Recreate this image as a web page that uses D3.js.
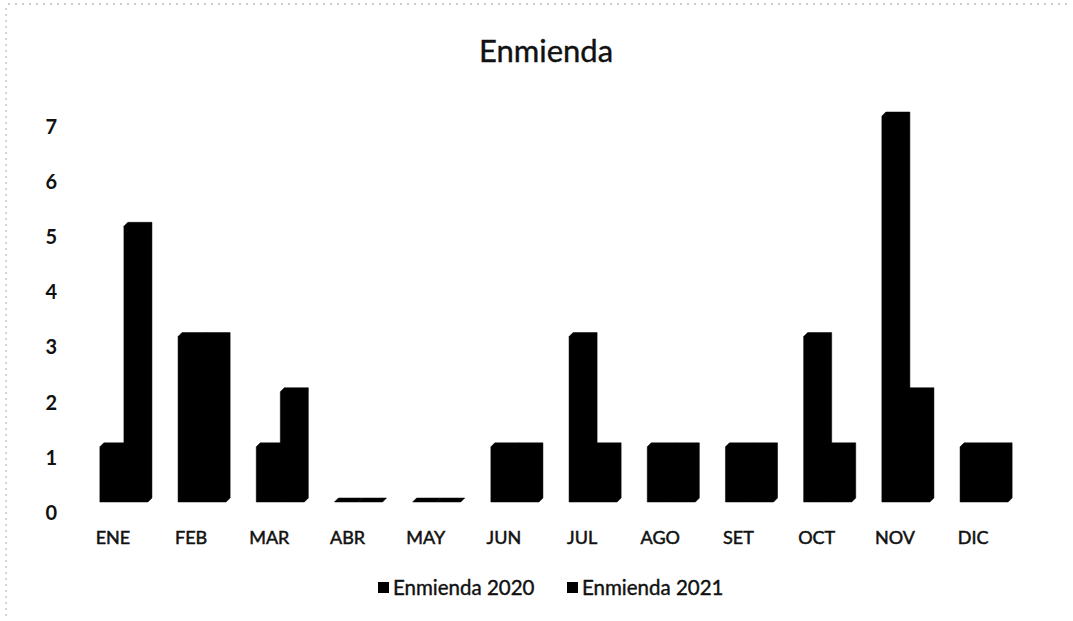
<!DOCTYPE html>
<html><head><meta charset="utf-8">
<script src="https://cdn.jsdelivr.net/npm/d3@7"></script>
<style>
html,body{margin:0;padding:0;background:#fff;}
text{font-family:Lato,"Open Sans",sans-serif;fill:#111;}
</style></head>
<body>
<svg id="chart" width="1073" height="621"></svg>
<script>
const categories = ["ENE","FEB","MAR","ABR","MAY","JUN","JUL","AGO","SET","OCT","NOV","DIC"];
const seriesNames = ["Enmienda 2020","Enmienda 2021"];
const values2020 = [1,3,1,0,0,1,3,1,1,3,7,1];
const values2021 = [5,3,2,0,0,1,1,1,1,1,2,1];
const yTicks = [0,1,2,3,4,5,6,7];
const title = "Enmienda";

const svg = d3.select("#chart");
const W = 1073, H = 621;
svg.append("rect").attr("width",W).attr("height",H).attr("fill","#fff");

// scan border artifacts
svg.append("line").attr("x1",8).attr("x2",1070).attr("y1",4).attr("y2",4)
  .attr("stroke","#999").attr("stroke-width",1).attr("stroke-dasharray","2,5");
svg.append("line").attr("x1",6).attr("x2",6).attr("y1",8).attr("y2",618)
  .attr("stroke","#aaa").attr("stroke-width",1).attr("stroke-dasharray","2,4");

const x = d3.scaleBand().domain(categories).range([85,1023]).paddingInner(0.385).paddingOuter(0.19);
const xs = d3.scaleBand().domain(seriesNames).range([0,x.bandwidth()]).padding(0);
const y = d3.scaleLinear().domain([0,7]).range([502,116]);
const d = 4;

svg.append("text").attr("x",546).attr("y",62).attr("text-anchor","middle")
  .attr("font-size",31).attr("stroke","#111").attr("stroke-width",0.4).text(title);

// y axis labels
const yAxis = d3.axisLeft(y).tickValues(yTicks).tickSize(0).tickPadding(0).tickFormat(d3.format("d"));
const ya = svg.append("g").attr("transform","translate(57,11)").call(yAxis);
ya.select(".domain").remove();
ya.selectAll("text").attr("font-size",20).attr("font-weight","bold")
  .style("font-family","Lato,sans-serif").attr("fill","#111");

// x axis labels
const xAxis = d3.axisBottom(x).tickSize(0).tickPadding(0);
const xa = svg.append("g").attr("transform","translate(-11,531)").call(xAxis);
xa.select(".domain").remove();
xa.selectAll("text").attr("font-size",18).style("font-family","Lato,sans-serif")
  .attr("fill","#111").attr("stroke","#111").attr("stroke-width",0.5);

const rows = [];
categories.forEach((c,i)=>{
  rows.push({c, s:seriesNames[0], v:values2020[i]});
  rows.push({c, s:seriesNames[1], v:values2021[i]});
});

function barPath(r){
  const x0 = x(r.c)+xs(r.s), x1 = x0+xs.bandwidth();
  const yt = y(r.v), yb = y(0);
  return `M${x0},${yb}L${x0},${yt}L${x0+d},${yt-d}L${x1+d},${yt-d}L${x1+d},${yb-d}L${x1},${yb}Z`;
}
svg.append("g").selectAll("path").data(rows).join("path")
  .attr("d",barPath).attr("fill","#000").attr("stroke","#000").attr("stroke-width",0.5);

// legend
const leg = svg.append("g");
const legX = [378,567];
seriesNames.forEach((n,i)=>{
  leg.append("rect").attr("x",legX[i]).attr("y",582).attr("width",11).attr("height",11).attr("fill","#000");
  leg.append("text").attr("x",legX[i]+15).attr("y",595).attr("font-size",20.5)
    .attr("stroke","#111").attr("stroke-width",0.4).text(n);
});
</script>
</body></html>
